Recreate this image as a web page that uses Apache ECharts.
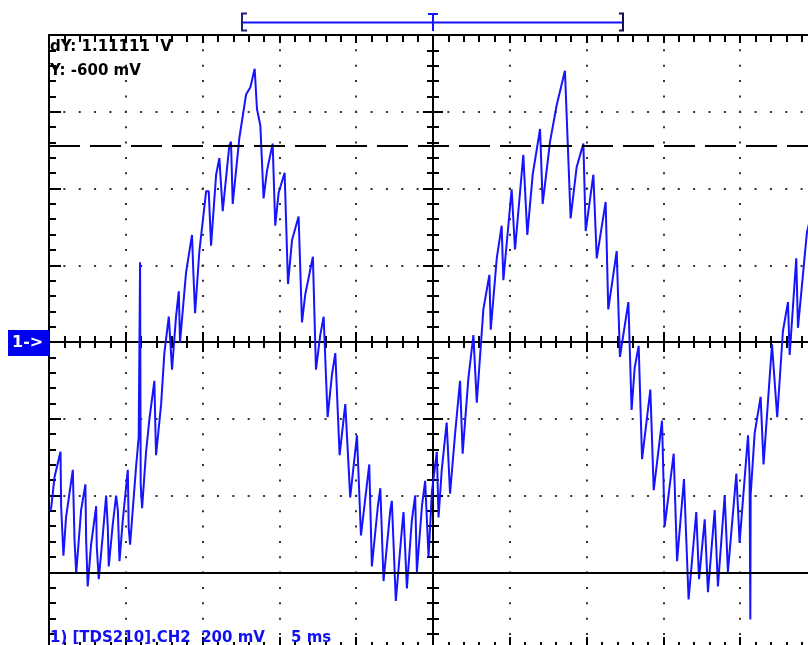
<!DOCTYPE html>
<html>
<head>
<meta charset="utf-8">
<script src="https://cdn.jsdelivr.net/npm/echarts@6/dist/echarts.min.js"></script>
<style>
  html, body { margin: 0; padding: 0; background: #fff; }
  #chart { width: 808px; height: 645px; }
</style>
</head>
<body>
<div id="chart"></div>
<script>
// TDS210 channel 2 capture, 5 ms/div, 200 mV/div, trigger at t = 0
const timeMs = [
  -24.97, -24.86, -24.64, -24.25, -24.21, -24.06, -23.89, -23.45, -23.34, -23.23,
  -22.91, -22.63, -22.58, -22.48, -22.26, -21.93, -21.89, -21.76, -21.50, -21.28,
  -21.17, -21.11, -20.85, -20.63, -20.52, -20.41, -20.20, -19.87, -19.81, -19.72,
  -19.33, -19.16, -19.07, -19.03, -18.94, -18.68, -18.46, -18.14, -18.07, -18.03,
  -17.70, -17.49, -17.20, -16.99, -16.73, -16.55, -16.47, -16.08, -15.69, -15.60,
  -15.49, -15.21, -14.77, -14.60, -14.45, -14.12, -13.91, -13.69, -13.26, -13.15,
  -13.04, -12.61, -12.17, -11.89, -11.61, -11.46, -11.24, -11.03, -10.81, -10.44,
  -10.27, -10.05, -9.66, -9.44, -9.18, -8.75, -8.53, -8.32, -7.82, -7.62,
  -7.34, -7.12, -6.86, -6.58, -6.36, -6.08, -5.71, -5.39, -4.95, -4.84,
  -4.69, -4.15, -3.98, -3.59, -3.43, -3.22, -2.78, -2.68, -2.42, -2.02,
  -1.92, -1.70, -1.38, -1.16, -1.05, -0.72, -0.51, -0.29, -0.07, 0.25,
  0.36, 0.57, 0.89, 1.11, 1.44, 1.76, 1.93, 2.30, 2.63, 2.85,
  3.28, 3.67, 3.76, 4.15, 4.47, 4.58, 5.12, 5.34, 5.88, 6.14,
  6.49, 6.97, 7.14, 7.62, 8.05, 8.59, 8.75, 8.96, 9.35, 9.79,
  9.94, 10.44, 10.66, 11.24, 11.41, 11.96, 12.17, 12.72, 12.93, 13.13,
  13.39, 13.61, 14.15, 14.37, 14.91, 15.08, 15.67, 15.89, 16.34, 16.64,
  17.14, 17.32, 17.69, 17.90, 18.34, 18.55, 18.99, 19.20, 19.75, 19.96,
  20.51, 20.61, 20.66, 20.68, 20.94, 21.33, 21.52, 22.07, 22.41, 22.78,
  23.11, 23.22, 23.65, 23.76, 24.34, 24.60
];
const voltageMv = [
  -440, -433, -352, -286, -428, -557, -457, -333, -514, -604,
  -438, -371, -519, -637, -528, -428, -533, -618, -504, -400,
  -485, -585, -476, -400, -438, -571, -466, -333, -485, -528,
  -324, -248, 208, -371, -433, -286, -200, -101, -229, -295,
  -162, -29, 66, -72, 66, 132, -1, 180, 279, 180,
  75, 237, 393, 393, 251, 436, 479, 341, 512, 522,
  360, 531, 645, 664, 712, 607, 564, 374, 446, 517,
  303, 389, 441, 151, 265, 327, 51, 123, 222, -72,
  18, 66, -196, -86, -29, -295, -162, -405, -243, -243,
  -504, -319, -585, -428, -381, -623, -438, -414, -675, -485,
  -443, -642, -466, -400, -599, -428, -362, -561, -390, -286,
  -457, -333, -210, -395, -238, -101, -291, -96, 18, -158,
  85, 175, 32, 218, 303, 161, 398, 241, 488, 279,
  436, 555, 360, 522, 617, 707, 541, 322, 455, 517,
  289, 436, 218, 365, 85, 237, -39, 104, -177, -67,
  -10, -305, -124, -386, -205, -481, -291, -571, -357, -671,
  -443, -618, -462, -652, -438, -637, -400, -599, -343, -523,
  -243, -343, -723, -400, -238, -143, -319, -6, -196, 28,
  104, -34, 218, 37, 284, 330
];
// horizontal cursors (mV): cursor 1, cursor 2
const cursorMv = [511.111, -600];
// screen scales
const msPerDiv = 5;
const mvPerDiv = 200;
const divsX = 10;
const divsY = 8;

const points = timeMs.map((t, i) => [t, voltageMv[i]]);
const dYText = 'dY: ' + ((cursorMv[0] - cursorMv[1]) / 1000).toFixed(5) + '  V';
const yText = 'Y: ' + cursorMv[1] + ' mV';
const infoText = '1) [TDS210].CH2  ' + mvPerDiv + ' mV     ' + msPerDiv + ' ms';

const BLACK = '#000';
const TRACE = '#1414ff';
const FONT = 'bold 15px "DejaVu Sans"';
const xMin = -msPerDiv * divsX / 2, xMax = msPerDiv * divsX / 2;
const yMin = -mvPerDiv * divsY / 2, yMax = mvPerDiv * divsY / 2;

const dots = { show: true, lineStyle: { color: '#333', width: 2, type: [2, 13.36], dashOffset: 1 } };
const tickStyle = { color: BLACK, width: 2 };

function mkAxis(kind, position, onZero, inside, major, minor, split) {
  return {
    type: 'value',
    position: position,
    min: kind === 'x' ? xMin : yMin,
    max: kind === 'x' ? xMax : yMax,
    interval: kind === 'x' ? msPerDiv : mvPerDiv,
    axisLine: { show: true, onZero: onZero, lineStyle: { color: BLACK, width: 2 } },
    axisTick: { show: true, inside: inside, length: major, lineStyle: tickStyle },
    minorTick: { show: true, splitNumber: 5, length: minor, lineStyle: tickStyle },
    axisLabel: { show: false },
    splitLine: split ? dots : { show: false },
    z: 1
  };
}

const chart = echarts.init(document.getElementById('chart'), null, { renderer: 'canvas' });

chart.setOption({
  animation: false,
  backgroundColor: '#fff',
  // the full 10 x 8 division screen is wider and taller than the window
  grid: { left: 49, top: 35, width: 768, height: 614, containLabel: false, outerBoundsMode: 'none' },
  xAxis: [
    mkAxis('x', 'bottom', true, false, 10, 6, true),   // centre line, ticks down
    mkAxis('x', 'top', true, false, 10, 6, false),     // centre line, ticks up
    mkAxis('x', 'top', false, true, 8, 7, false),      // top frame
    mkAxis('x', 'bottom', false, true, 12, 7, false)   // bottom frame
  ],
  yAxis: [
    mkAxis('y', 'left', true, false, 10, 6, true),     // centre line, ticks left
    mkAxis('y', 'right', true, false, 10, 6, false),   // centre line, ticks right
    mkAxis('y', 'left', false, true, 12, 7, false)     // left frame
  ],
  series: [{
    type: 'line',
    xAxisIndex: 0,
    yAxisIndex: 0,
    data: points,
    showSymbol: false,
    symbol: 'none',
    lineStyle: { color: TRACE, width: 2 },
    z: 3,
    markLine: {
      silent: true,
      symbol: 'none',
      label: { show: false },
      z: 5,
      data: [
        { yAxis: cursorMv[0], lineStyle: { color: BLACK, width: 2, type: [31, 10] } },
        { yAxis: cursorMv[1], lineStyle: { color: BLACK, width: 2, type: 'solid' } }
      ]
    }
  }]
});

// overlay: readouts, channel marker and record bracket
const x0 = chart.convertToPixel({ xAxisIndex: 0 }, 0);
const y0 = chart.convertToPixel({ yAxisIndex: 0 }, 0);
const gl = chart.convertToPixel({ xAxisIndex: 0 }, xMin);

chart.setOption({
  graphic: [
    { type: 'text', z: 10, style: { text: dYText, x: gl + 1, y: 47.5, font: FONT, fill: BLACK, verticalAlign: 'middle' } },
    { type: 'text', z: 10, style: { text: yText, x: gl + 1, y: 71, font: FONT, fill: BLACK, verticalAlign: 'middle' } },
    { type: 'text', z: 10, style: { text: infoText, x: gl + 1, y: 638, font: FONT, fill: '#1010f0', verticalAlign: 'middle' } },
    { type: 'rect', z: 10, shape: { x: 8, y: y0 - 12, width: gl - 8, height: 26 }, style: { fill: '#0000f0' } },
    { type: 'text', z: 11, style: { text: '1->', x: 12, y: y0 + 1, font: 'bold 16px "DejaVu Sans"', fill: '#fff', verticalAlign: 'middle' } },
    // record bracket
    { type: 'line', z: 10, shape: { x1: 242, y1: 22.5, x2: 623, y2: 22.5 }, style: { stroke: '#1414ff', lineWidth: 2 } },
    { type: 'polyline', z: 10, shape: { points: [[247, 13.5], [242, 13.5], [242, 30.5], [247, 30.5]] }, style: { stroke: '#202080', lineWidth: 2, fill: null } },
    { type: 'polyline', z: 10, shape: { points: [[619, 13.5], [623, 13.5], [623, 30.5], [619, 30.5]] }, style: { stroke: '#101050', lineWidth: 2, fill: null } },
    { type: 'line', z: 10, shape: { x1: x0 - 5, y1: 14, x2: x0 + 5, y2: 14 }, style: { stroke: '#1414ff', lineWidth: 2 } },
    { type: 'line', z: 10, shape: { x1: x0, y1: 14, x2: x0, y2: 31 }, style: { stroke: '#1414ff', lineWidth: 2 } }
  ]
});
</script>
</body>
</html>
